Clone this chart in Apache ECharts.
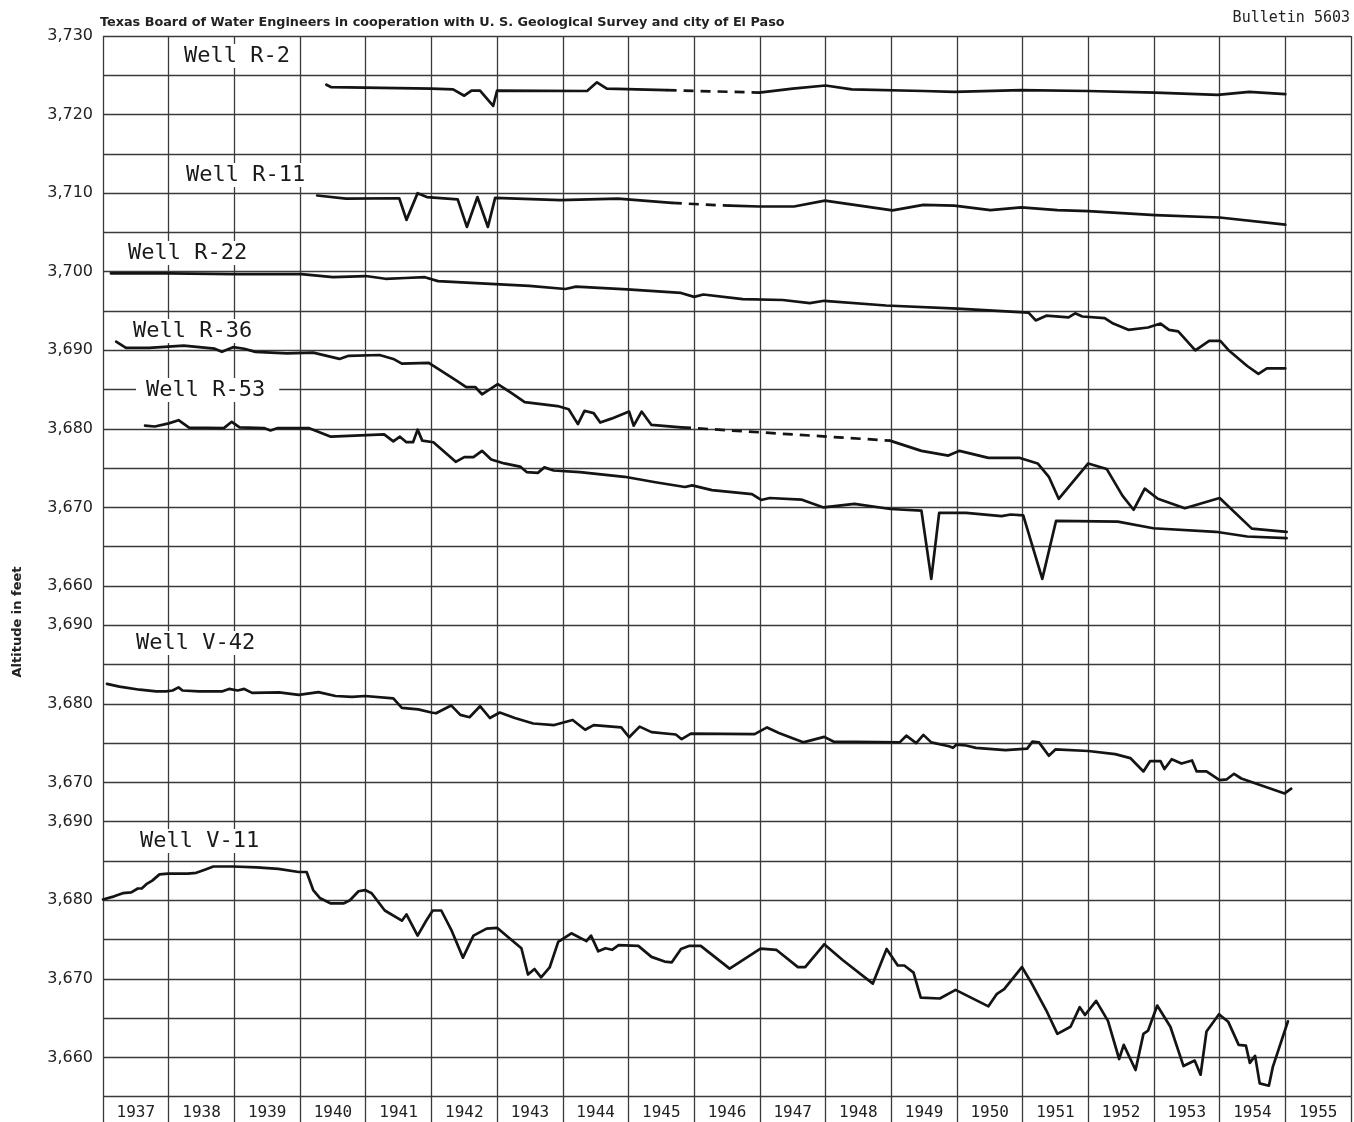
<!DOCTYPE html>
<html>
<head>
<meta charset="utf-8">
<script src="https://cdn.jsdelivr.net/npm/echarts@6/dist/echarts.min.js"></script>
<style>
  html, body { margin: 0; padding: 0; background: #ffffff; }
  #main { width: 1354px; height: 1122px; }
</style>
</head>
<body>
<div id="main"></div>
<script>
// ---------------- DATA (year, altitude in feet) ----------------
const yearLabels = ['1937','1938','1939','1940','1941','1942','1943','1944','1945','1946',
                    '1947','1948','1949','1950','1951','1952','1953','1954','1955'];

const topTicks = [3660, 3670, 3680, 3690, 3700, 3710, 3720, 3730];

// Well R-2 (record broken by a gap 1945-1947)
const wellR2a = [[1940.40,3723.8],[1940.47,3723.5],[1942.0,3723.3],[1942.33,3723.2],[1942.5,3722.4],
  [1942.61,3723.05],[1942.74,3723.05],[1942.94,3721.1],[1943.0,3723.05],[1944.37,3723.0],
  [1944.52,3724.1],[1944.67,3723.3],[1945.58,3723.1]];
const wellR2b = [[1946.99,3722.8],[1947.5,3723.3],[1948.0,3723.7],[1948.4,3723.2],[1949.49,3723.0],
  [1949.96,3722.9],[1950.98,3723.1],[1952.0,3723.0],[1953.02,3722.8],[1953.97,3722.5],
  [1954.45,3722.9],[1955.0,3722.6]];

// Well R-11
const wellR11a = [[1940.26,3709.7],[1940.7,3709.3],[1941.51,3709.35],[1941.62,3706.6],[1941.79,3710.0],
  [1941.93,3709.5],[1942.4,3709.2],[1942.54,3705.7],[1942.7,3709.5],[1942.86,3705.7],
  [1942.97,3709.4],[1943.96,3709.1],[1944.84,3709.3],[1945.66,3708.75]];
const wellR11b = [[1946.54,3708.4],[1946.99,3708.3],[1947.52,3708.3],[1947.99,3709.05],[1949.02,3707.8],
  [1949.49,3708.5],[1949.96,3708.4],[1950.51,3707.85],[1950.98,3708.2],[1951.53,3707.85],
  [1952.0,3707.7],[1953.02,3707.2],[1954.0,3706.9],[1955.0,3706.0]];

// Well R-22
const wellR22 = [[1937.12,3699.8],[1938.0,3699.8],[1939.0,3699.7],[1940.02,3699.7],[1940.5,3699.3],
  [1941.0,3699.45],[1941.3,3699.1],[1941.6,3699.2],[1941.9,3699.3],[1942.1,3698.8],[1942.53,3698.6],
  [1943.49,3698.2],[1944.04,3697.8],[1944.2,3698.1],[1944.98,3697.75],[1945.8,3697.3],[1946.0,3696.8],
  [1946.14,3697.1],[1946.74,3696.5],[1947.35,3696.4],[1947.76,3696.0],[1947.98,3696.3],[1948.92,3695.7],
  [1950.01,3695.3],[1951.09,3694.8],[1951.2,3693.8],[1951.36,3694.4],[1951.7,3694.2],[1951.8,3694.7],
  [1951.91,3694.3],[1952.25,3694.1],[1952.38,3693.4],[1952.61,3692.6],[1952.91,3692.9],[1953.1,3693.4],
  [1953.23,3692.6],[1953.37,3692.4],[1953.63,3690.0],[1953.84,3691.2],[1954.01,3691.2],[1954.15,3689.9],
  [1954.42,3688.0],[1954.59,3687.0],[1954.72,3687.7],[1955.0,3687.7]];

// Well R-36 (gap 1945-1949)
const wellR36a = [[1937.2,3691.1],[1937.35,3690.3],[1937.7,3690.3],[1938.23,3690.6],[1938.7,3690.2],
  [1938.81,3689.8],[1938.98,3690.4],[1939.15,3690.2],[1939.32,3689.8],[1939.8,3689.6],[1940.2,3689.7],
  [1940.6,3688.9],[1940.74,3689.3],[1941.21,3689.4],[1941.42,3688.9],[1941.55,3688.3],[1941.96,3688.4],
  [1942.37,3686.2],[1942.53,3685.3],[1942.67,3685.3],[1942.77,3684.4],[1943.01,3685.7],[1943.21,3684.6],
  [1943.42,3683.4],[1943.92,3682.9],[1944.09,3682.5],[1944.23,3680.6],[1944.33,3682.3],[1944.47,3682.0],
  [1944.57,3680.8],[1944.74,3681.3],[1945.01,3682.2],[1945.08,3680.4],[1945.2,3682.2],[1945.35,3680.5],
  [1945.8,3680.2]];
const wellR36b = [[1948.98,3678.5],[1949.46,3677.2],[1949.87,3676.6],[1950.04,3677.2],[1950.48,3676.3],
  [1950.96,3676.3],[1951.23,3675.6],[1951.4,3673.9],[1951.55,3671.1],[1952.0,3675.6],[1952.28,3674.9],
  [1952.52,3671.5],[1952.69,3669.7],[1952.86,3672.4],[1953.06,3671.1],[1953.47,3669.9],[1954.0,3671.2],
  [1954.49,3667.3],[1955.02,3666.9]];

// Well R-53
const wellR53 = [[1937.64,3680.4],[1937.79,3680.3],[1938.0,3680.7],[1938.15,3681.1],[1938.31,3680.15],
  [1938.84,3680.1],[1938.96,3680.9],[1939.08,3680.2],[1939.45,3680.1],[1939.55,3679.8],[1939.66,3680.1],
  [1940.13,3680.1],[1940.47,3679.0],[1940.74,3679.1],[1941.28,3679.3],[1941.42,3678.4],[1941.52,3679.0],
  [1941.62,3678.3],[1941.72,3678.3],[1941.79,3679.9],[1941.86,3678.5],[1942.03,3678.3],[1942.37,3675.8],
  [1942.5,3676.4],[1942.64,3676.4],[1942.77,3677.2],[1942.91,3676.1],[1943.11,3675.6],[1943.35,3675.2],
  [1943.45,3674.5],[1943.62,3674.4],[1943.72,3675.1],[1943.86,3674.7],[1944.26,3674.5],[1944.94,3673.9],
  [1945.41,3673.2],[1945.86,3672.6],[1945.97,3672.8],[1946.27,3672.2],[1946.88,3671.7],[1947.02,3670.95],
  [1947.15,3671.2],[1947.63,3671.0],[1947.97,3670.0],[1948.44,3670.45],[1948.99,3669.8],[1949.46,3669.6],
  [1949.61,3660.9],[1949.73,3669.3],[1950.14,3669.3],[1950.68,3668.9],[1950.82,3669.1],[1951.01,3669.0],
  [1951.3,3660.9],[1951.51,3668.3],[1952.45,3668.2],[1952.99,3667.35],[1953.94,3666.9],[1954.42,3666.3],
  [1955.02,3666.1]];

// Well V-42
const wellV42 = [[1937.06,3682.55],[1937.25,3682.2],[1937.56,3681.8],[1937.81,3681.6],[1937.96,3681.6],
  [1938.06,3681.7],[1938.15,3682.1],[1938.21,3681.7],[1938.46,3681.6],[1938.82,3681.6],[1938.92,3681.9],
  [1939.05,3681.7],[1939.15,3681.9],[1939.27,3681.4],[1939.68,3681.45],[1939.98,3681.15],[1940.28,3681.5],
  [1940.54,3681.0],[1940.79,3680.9],[1940.99,3681.0],[1941.42,3680.7],[1941.55,3679.5],[1941.8,3679.3],
  [1942.0,3678.9],[1942.07,3678.8],[1942.3,3679.8],[1942.44,3678.6],[1942.58,3678.3],[1942.74,3679.7],
  [1942.89,3678.2],[1943.04,3678.9],[1943.27,3678.2],[1943.55,3677.5],[1943.87,3677.3],[1944.15,3677.95],
  [1944.34,3676.7],[1944.47,3677.3],[1944.89,3677.0],[1945.01,3675.75],[1945.17,3677.1],[1945.35,3676.4],
  [1945.72,3676.1],[1945.81,3675.5],[1945.95,3676.2],[1946.92,3676.15],[1947.11,3677.0],[1947.29,3676.3],
  [1947.66,3675.1],[1947.98,3675.8],[1948.12,3675.2],[1949.13,3675.1],[1949.23,3675.95],[1949.38,3675.0],
  [1949.49,3676.05],[1949.61,3675.1],[1949.88,3674.6],[1949.94,3674.4],[1949.99,3674.8],[1950.14,3674.7],
  [1950.29,3674.4],[1950.74,3674.1],[1951.07,3674.3],[1951.15,3675.2],[1951.25,3675.1],[1951.4,3673.4],
  [1951.5,3674.2],[1952.0,3674.0],[1952.41,3673.6],[1952.64,3673.1],[1952.84,3671.4],[1952.94,3672.7],
  [1953.1,3672.7],[1953.16,3671.7],[1953.27,3672.95],[1953.42,3672.4],[1953.58,3672.8],[1953.65,3671.4],
  [1953.8,3671.4],[1954.0,3670.3],[1954.11,3670.4],[1954.22,3671.1],[1954.33,3670.5],[1954.99,3668.6],
  [1955.09,3669.2]];

// Well V-11
const wellV11 = [[1937.0,3680.1],[1937.17,3680.5],[1937.3,3680.9],[1937.43,3681.0],[1937.53,3681.5],
  [1937.59,3681.5],[1937.66,3682.05],[1937.75,3682.5],[1937.86,3683.3],[1937.99,3683.4],[1938.29,3683.4],
  [1938.42,3683.5],[1938.55,3683.9],[1938.68,3684.3],[1938.98,3684.3],[1939.34,3684.2],[1939.67,3684.0],
  [1939.98,3683.6],[1940.1,3683.6],[1940.2,3681.3],[1940.3,3680.3],[1940.47,3679.6],[1940.66,3679.6],
  [1940.76,3680.0],[1940.89,3681.15],[1940.99,3681.3],[1941.09,3680.9],[1941.29,3678.7],[1941.55,3677.4],
  [1941.62,3678.2],[1941.79,3675.5],[1941.92,3677.4],[1942.02,3678.7],[1942.15,3678.7],[1942.31,3676.1],
  [1942.48,3672.7],[1942.64,3675.5],[1942.84,3676.4],[1943.0,3676.5],[1943.17,3675.3],[1943.37,3673.9],
  [1943.47,3670.55],[1943.57,3671.25],[1943.67,3670.2],[1943.8,3671.45],[1943.93,3674.7],[1944.13,3675.8],
  [1944.36,3674.8],[1944.43,3675.5],[1944.54,3673.5],[1944.65,3673.9],[1944.75,3673.7],[1944.85,3674.3],
  [1945.15,3674.2],[1945.35,3672.8],[1945.55,3672.2],[1945.66,3672.1],[1945.8,3673.8],[1945.93,3674.2],
  [1946.1,3674.2],[1946.54,3671.3],[1947.01,3673.85],[1947.25,3673.7],[1947.58,3671.5],[1947.69,3671.5],
  [1947.98,3674.4],[1948.26,3672.4],[1948.72,3669.4],[1948.93,3673.8],[1949.1,3671.7],[1949.2,3671.7],
  [1949.34,3670.8],[1949.45,3667.6],[1949.74,3667.5],[1949.98,3668.6],[1950.48,3666.5],[1950.61,3668.1],
  [1950.72,3668.7],[1950.99,3671.5],[1951.12,3669.7],[1951.36,3666.0],[1951.53,3663.0],[1951.73,3663.9],
  [1951.87,3666.4],[1951.95,3665.4],[1952.12,3667.2],[1952.3,3664.65],[1952.47,3659.8],[1952.54,3661.6],
  [1952.72,3658.4],[1952.84,3663.0],[1952.91,3663.4],[1953.05,3666.6],[1953.25,3663.9],[1953.45,3658.9],
  [1953.62,3659.6],[1953.71,3657.8],[1953.8,3663.3],[1953.99,3665.5],[1954.13,3664.55],[1954.29,3661.6],
  [1954.4,3661.5],[1954.46,3659.3],[1954.54,3660.2],[1954.61,3656.7],[1954.75,3656.4],[1954.81,3658.8],
  [1955.04,3664.6]];

// ---------------- CHART ----------------
const chart = echarts.init(document.getElementById('main'), null, { renderer: 'canvas' });

const PX_PER_FT = 550 / 70;
const GRID_LEFT = 103, GRID_RIGHT = 3;
const gridLine = { color: '#3a3a3a', width: 1.3 };
const inkColor = '#141414';
const labelFont = 'DejaVu Sans Mono';

const grids = [
  { left: GRID_LEFT, right: GRID_RIGHT, top: 36, height: 70 * PX_PER_FT },
  { left: GRID_LEFT, right: GRID_RIGHT, top: 36 + 70 * PX_PER_FT, height: 25 * PX_PER_FT },
  { left: GRID_LEFT, right: GRID_RIGHT, top: 36 + 95 * PX_PER_FT, height: 40 * PX_PER_FT }
];

function valueX(gi) {
  return {
    type: 'value', gridIndex: gi, min: 1937, max: 1956, interval: 1, position: 'top',
    axisLine: { show: false }, axisTick: { show: false }, axisLabel: { show: false },
    splitLine: { show: true, lineStyle: gridLine }
  };
}
function valueY(gi, min, max, showMax) {
  return {
    type: 'value', gridIndex: gi, min: min, max: max, interval: 5,
    axisLine: { show: false }, axisTick: { show: false },
    axisLabel: {
      margin: 10, color: '#222', fontFamily: 'DejaVu Sans', fontSize: 16,
      formatter: v => (topTicks.indexOf(Math.round(v)) >= 0) ? Math.round(v).toLocaleString('en-US') : ''
    },
    splitLine: { show: true, showMaxLine: showMax, lineStyle: gridLine }
  };
}

const xAxes = [valueX(0), valueX(1), valueX(2), {
  type: 'category', gridIndex: 2, position: 'bottom', data: yearLabels, boundaryGap: true,
  axisLine: { show: false },
  axisTick: { show: true, interval: 0, length: 26, alignWithLabel: false, lineStyle: gridLine },
  axisLabel: { interval: 0, margin: 8, color: '#222', fontFamily: labelFont, fontSize: 16 },
  splitLine: { show: false }
}];
const yAxes = [valueY(0, 3660, 3730, true), valueY(1, 3670, 3695, false), valueY(2, 3655, 3695, false)];

function solid(data, gi) {
  return {
    type: 'line', xAxisIndex: gi, yAxisIndex: gi, data: data, symbol: 'none', silent: true,
    clip: false, lineStyle: { color: inkColor, width: 2.7, join: 'round', cap: 'round' }
  };
}
function dashed(a, b, gi) {
  return {
    type: 'line', xAxisIndex: gi, yAxisIndex: gi, data: [a[a.length - 1], b[0]], symbol: 'none',
    silent: true, lineStyle: { color: inkColor, width: 2.7, type: [10, 7] }
  };
}

const series = [
  solid(wellR2a, 0), solid(wellR2b, 0), dashed(wellR2a, wellR2b, 0),
  solid(wellR11a, 0), solid(wellR11b, 0), dashed(wellR11a, wellR11b, 0),
  solid(wellR22, 0),
  solid(wellR36a, 0), solid(wellR36b, 0), dashed(wellR36a, wellR36b, 0),
  solid(wellR53, 0),
  solid(wellV42, 1),
  solid(wellV11, 2)
];

function wellLabel(text, x, y, pad) {
  return {
    type: 'text', x: x, y: y, z: 100,
    style: {
      text: text, fill: '#1a1a1a', font: '22px ' + labelFont,
      textAlign: 'left', textVerticalAlign: 'middle',
      backgroundColor: '#ffffff', padding: pad || [1, 3, 1, 3]
    }
  };
}

const graphics = [
  { type: 'text', x: 100, y: 23, style: {
      text: 'Texas Board of Water Engineers in cooperation with U. S. Geological Survey and city of El Paso',
      fill: '#222', font: 'bold 12.8px DejaVu Sans', textAlign: 'left', textVerticalAlign: 'middle' } },
  { type: 'text', x: 1350, y: 18, style: {
      text: 'Bulletin 5603', fill: '#222', font: '15px ' + labelFont,
      textAlign: 'right', textVerticalAlign: 'middle' } },
  { type: 'text', x: 18, y: 622, rotation: Math.PI / 2, style: {
      text: 'Altitude in feet', fill: '#222', font: 'bold 13px DejaVu Sans',
      textAlign: 'center', textVerticalAlign: 'middle' } },
  wellLabel('Well R-2', 181, 56),
  wellLabel('Well R-11', 183, 175),
  wellLabel('Well R-22', 125, 253),
  wellLabel('Well R-36', 130, 331),
  wellLabel('Well R-53', 136, 390, [1, 14, 1, 10]),
  wellLabel('Well V-42', 133, 643),
  wellLabel('Well V-11', 137, 841)
];

chart.setOption({
  backgroundColor: '#ffffff',
  animation: false,
  grid: grids,
  xAxis: xAxes,
  yAxis: yAxes,
  series: series,
  graphic: graphics
});
</script>
</body>
</html>
